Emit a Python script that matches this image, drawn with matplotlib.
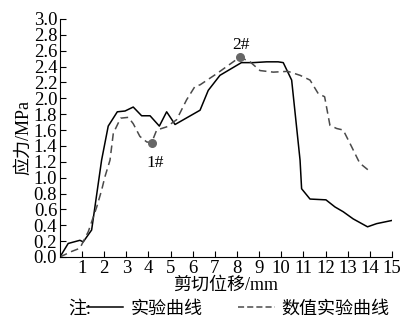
import matplotlib.pyplot as plt
from matplotlib.lines import Line2D

plt.rcParams['font.family'] = ['Liberation Serif', 'Noto Sans CJK SC']

# experimental curve
exp_x = [0, 0.37, 0.9, 1.05, 1.43, 1.88, 2.18, 2.59, 2.94, 3.31, 3.69, 4.07, 4.49, 4.82, 5.2,
         6.33, 6.7, 7.23, 8.2, 8.73, 9.34, 9.86, 10.09, 10.47, 10.85, 10.92, 11.3, 12.02,
         12.43, 12.8, 13.25, 13.9, 14.31, 15.0]
exp_y = [0, 0.17, 0.21, 0.19, 0.34, 1.22, 1.65, 1.83, 1.84, 1.89, 1.78, 1.78, 1.65, 1.83, 1.67,
         1.85, 2.10, 2.29, 2.45, 2.45, 2.46, 2.46, 2.45, 2.23, 1.22, 0.86, 0.73, 0.72,
         0.63, 0.57, 0.48, 0.38, 0.42, 0.46]

# numerical curve
num_x = [0, 0.53, 0.9, 1.28, 1.66, 1.88, 2.03, 2.26, 2.41, 2.74, 3.09, 3.31, 3.61, 3.92, 4.14,
         4.37, 4.82, 5.27, 5.72, 6.1, 6.33, 7.08, 7.83, 8.13, 8.59, 9.04, 9.64, 10.3, 10.85,
         11.3, 11.67, 11.96, 12.2, 12.5, 12.8, 13.18, 13.48, 13.56, 14.0]
num_y = [0, 0.07, 0.11, 0.32, 0.63, 0.84, 1.01, 1.22, 1.56, 1.75, 1.76, 1.68, 1.52, 1.45, 1.44,
         1.60, 1.64, 1.73, 1.98, 2.15, 2.17, 2.31, 2.46, 2.52, 2.46, 2.35, 2.33, 2.34, 2.29,
         2.23, 2.06, 2.02, 1.66, 1.62, 1.60, 1.39, 1.22, 1.18, 1.08]

points_x = [4.14, 8.13]
points_y = [1.44, 2.52]
point_labels = ['1#', '2#']
label_x = [4.3, 8.18]
label_y = [1.18, 2.67]

fig = plt.figure(figsize=(4.04, 3.22), dpi=100)
ax = fig.add_axes([0.1485, 0.202, 0.8215, 0.739])

ax.plot(exp_x, exp_y, color='black', lw=1.1, linestyle='-')
ax.plot(num_x, num_y, color='#4a4a4a', lw=1.1, linestyle=(0, (5, 3)))
ax.scatter(points_x, points_y, s=30, color='#666666', zorder=3)
for lx, ly, t in zip(label_x, label_y, point_labels):
    ax.text(lx, ly, t, fontsize=12.5, ha='center', va='center')

ax.set_xlim(0, 15)
ax.set_ylim(0, 3.0)
ax.set_xticks(range(1, 16))
ax.set_yticks([i * 0.2 for i in range(16)])
ax.set_yticklabels([f'{i * 0.2:.1f}' for i in range(16)])
ax.tick_params(direction='in', labelsize=13.5, length=4, pad=2)
for s in ['top', 'right']:
    ax.spines[s].set_visible(False)

ax.set_xlabel('剪切位移/mm', fontsize=13, labelpad=0)
ax.set_ylabel('应力/MPa', fontsize=13, labelpad=1)

fig.text(0.17, 0.04, '注:', fontsize=13, va='center')
handles = [Line2D([], [], color='black', lw=1.1),
           Line2D([], [], color='#4a4a4a', lw=1.1, linestyle=(0, (4, 2)))]
fig.legend(handles, ['实验曲线', '数值实验曲线'], loc='center', bbox_to_anchor=(0.59, 0.04),
           ncol=2, frameon=False, fontsize=13, handlelength=2.0, handletextpad=0.4,
           columnspacing=2.0, borderpad=0)

plt.savefig('out.png', dpi=100)
